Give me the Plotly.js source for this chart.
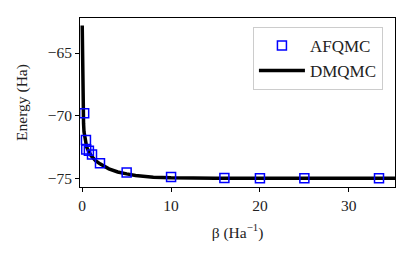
<!DOCTYPE html>
<html><head><meta charset="utf-8">
<script src="https://cdn.plot.ly/plotly-3.0.1.min.js"></script>
<style>html,body{margin:0;padding:0;background:#fff;}#chart{width:415px;height:253px;}</style>
</head><body><div id="chart"></div>
<script>
const afqmcBeta = [0.22, 0.42, 0.45, 0.75, 1.1, 2.0, 5.0, 10, 16, 20, 25, 33.4];
const afqmcEnergy = [-69.8, -71.95, -72.7, -72.8, -73.1, -73.8, -74.55, -74.9, -74.98, -75.0, -75.0, -75.0];
const dmqmcBeta = [0, 0.03, 0.06, 0.1, 0.15, 0.2, 0.3, 0.5, 0.75, 1, 1.5, 2, 3, 4, 5, 6, 8, 10, 15, 20, 36];
const dmqmcEnergy = [-62.8, -65.5, -67.5, -69.3, -70.6, -71.3, -71.9, -72.5, -72.9, -73.2, -73.6, -73.85, -74.25, -74.5, -74.65, -74.78, -74.92, -74.97, -75.0, -75.0, -75.0];
const xTicks = [0, 10, 20, 30];
const yTicks = [-75, -70, -65];

const font = {family: 'Liberation Serif, DejaVu Serif, serif', size: 15.5, color: '#222'};
const legendFont = {family: 'Liberation Serif, DejaVu Serif, serif', size: 17, color: '#222'};
Plotly.newPlot('chart', [
  {x: dmqmcBeta, y: dmqmcEnergy, name: 'DMQMC', mode: 'lines',
   line: {color: 'black', width: 3.5}},
  {x: afqmcBeta, y: afqmcEnergy, name: 'AFQMC', mode: 'markers',
   marker: {symbol: 'square-open', color: 'blue', size: 9, line: {width: 1.5, color: 'blue'}}}
], {
  width: 415, height: 253,
  margin: {l: 80, r: 20, t: 18, b: 66},
  paper_bgcolor: 'white', plot_bgcolor: 'white',
  font: font,
  showlegend: true,
  legend: {x: 0.549, y: 0.947, xanchor: 'left', yanchor: 'top', traceorder: 'reversed',
    itemwidth: 46, bordercolor: '#ccc', borderwidth: 1, bgcolor: 'rgba(255,255,255,0.8)', font: legendFont},
  xaxis: {range: [-0.25, 35.2], tickvals: xTicks, ticks: 'outside', ticklen: 4, tickwidth: 1,
    tickcolor: 'black', showline: true, linecolor: 'black', linewidth: 1, mirror: true,
    showgrid: false, zeroline: false,
    title: {text: 'β (Ha<sup>−1</sup>)', standoff: 14, font: font}},
  yaxis: {range: [-75.7, -62.2], tickvals: yTicks, ticks: 'outside', ticklen: 4, tickwidth: 1,
    tickcolor: 'black', showline: true, linecolor: 'black', linewidth: 1, mirror: true,
    showgrid: false, zeroline: false,
    title: {text: 'Energy (Ha)', standoff: 16, font: font}}
}, {staticPlot: true});
</script></body></html>
